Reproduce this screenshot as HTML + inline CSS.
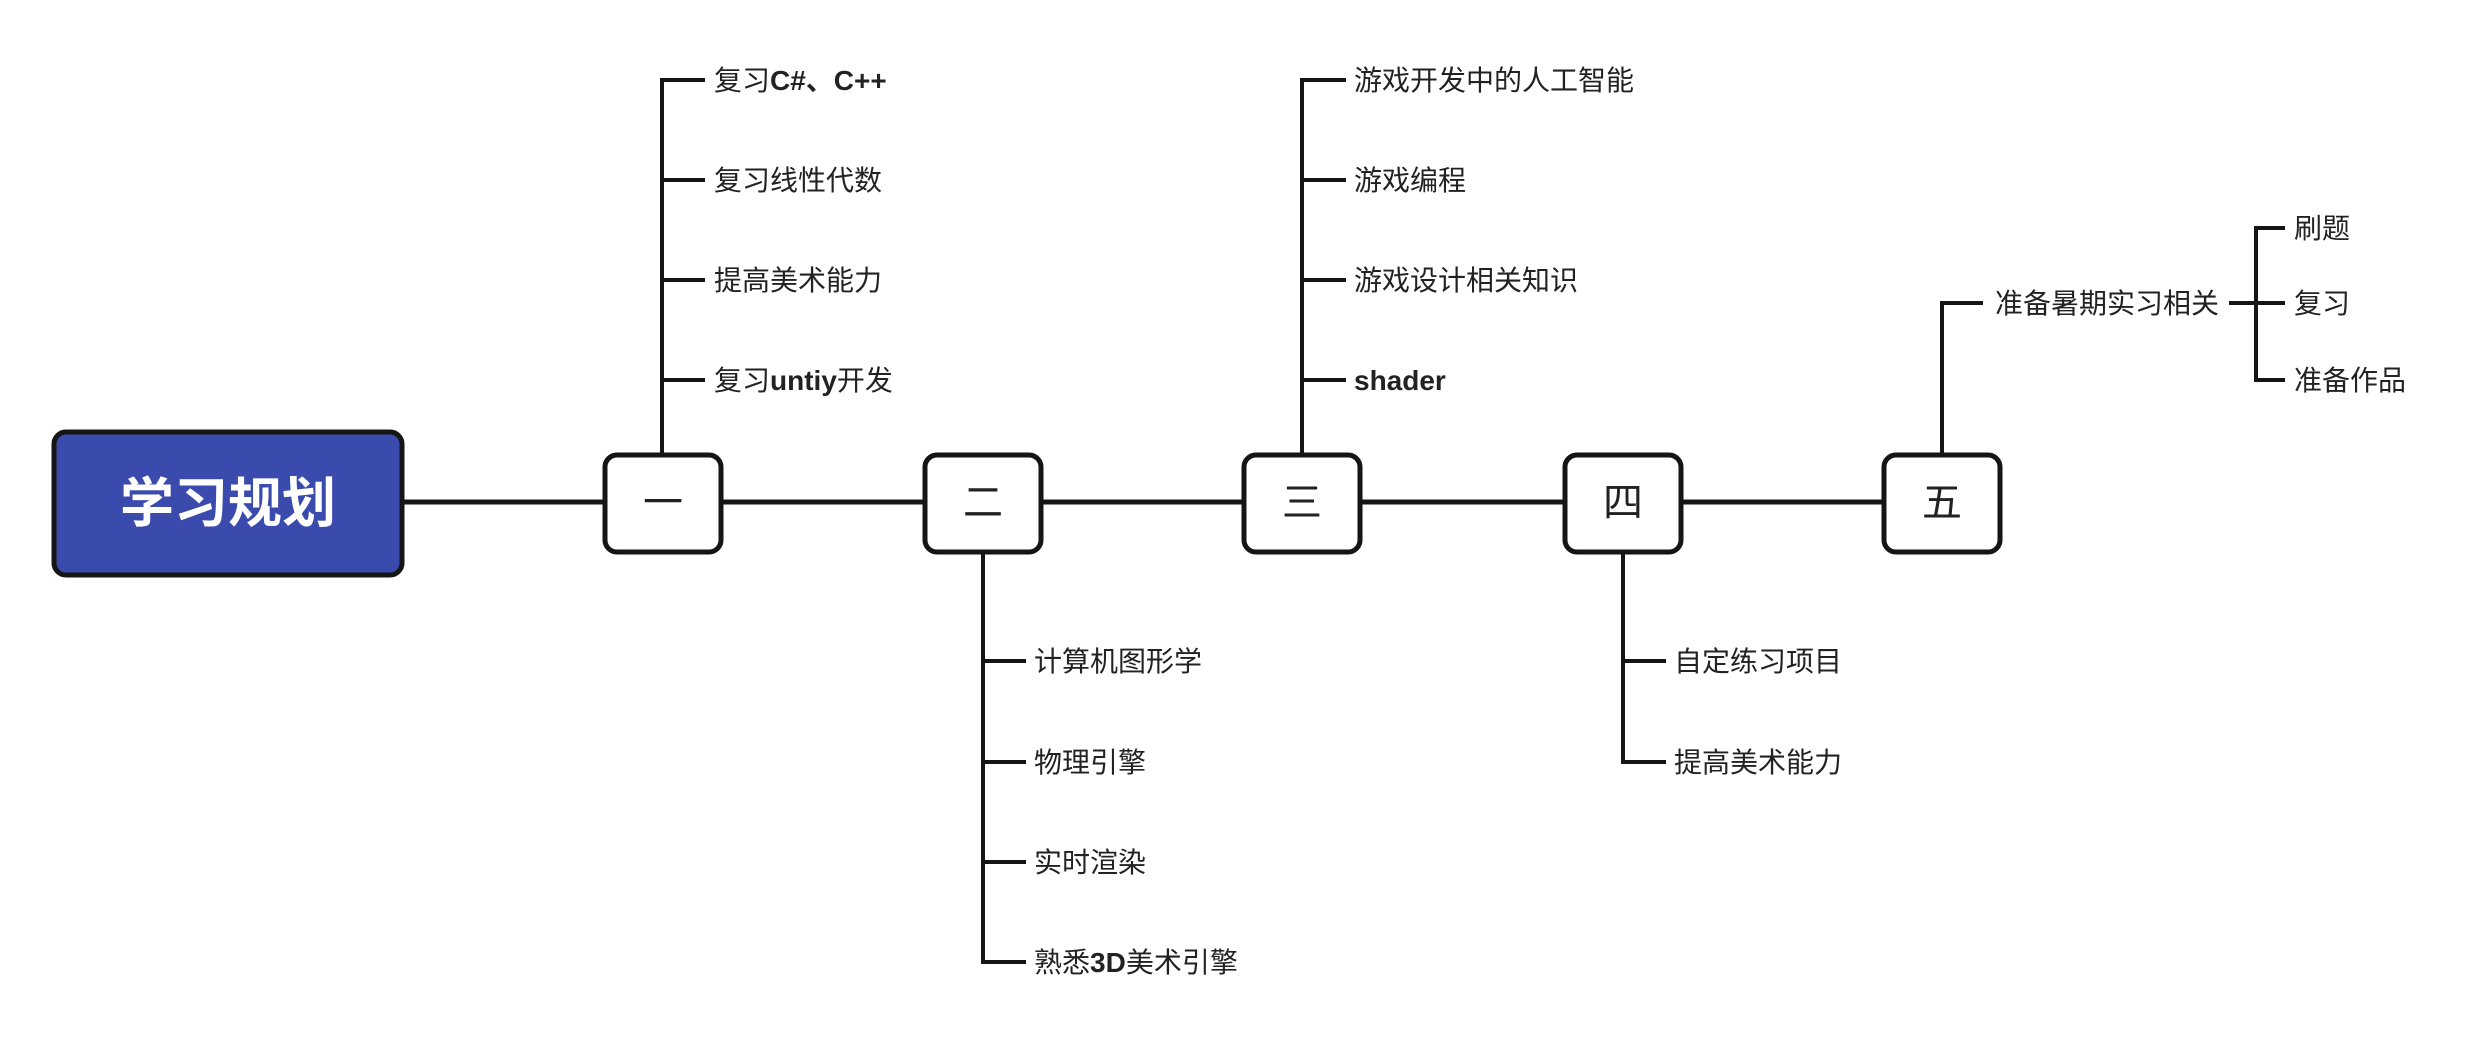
<!DOCTYPE html>
<html><head><meta charset="utf-8"><style>
html,body{margin:0;padding:0;background:#fff;width:2468px;height:1042px;overflow:hidden}
svg text{font-family:"Liberation Sans","Noto Sans CJK SC",sans-serif}
</style></head><body>
<svg width="2468" height="1042" viewBox="0 0 2468 1042" xmlns="http://www.w3.org/2000/svg">
<g stroke="#151515" stroke-width="5" fill="none">
<line x1="403" y1="502" x2="1942" y2="502"/>
</g>
<g stroke="#151515" stroke-width="4" fill="none">
<!-- 一 -->
<polyline points="705,80 662,80 662,455"/>
<line x1="662" y1="180" x2="705" y2="180"/>
<line x1="662" y1="280" x2="705" y2="280"/>
<line x1="662" y1="380" x2="705" y2="380"/>
<!-- 三 -->
<polyline points="1346,80 1302,80 1302,455"/>
<line x1="1302" y1="180" x2="1346" y2="180"/>
<line x1="1302" y1="280" x2="1346" y2="280"/>
<line x1="1302" y1="380" x2="1346" y2="380"/>
<!-- 二 -->
<polyline points="983,550 983,962 1026,962"/>
<line x1="983" y1="661" x2="1026" y2="661"/>
<line x1="983" y1="762" x2="1026" y2="762"/>
<line x1="983" y1="862" x2="1026" y2="862"/>
<!-- 四 -->
<polyline points="1623,550 1623,762 1666,762"/>
<line x1="1623" y1="661" x2="1666" y2="661"/>
<!-- 五 -->
<polyline points="1942,455 1942,303 1983,303"/>
<line x1="2229" y1="303" x2="2285" y2="303"/>
<polyline points="2285,228 2256,228 2256,380 2285,380"/>
</g>
<rect x="54" y="432" width="348" height="143" rx="12" fill="#3a4bad" stroke="#151515" stroke-width="5"/>
<text x="228" y="522" font-size="54" font-weight="bold" fill="#fff" text-anchor="middle">学习规划</text>
<g fill="#fff" stroke="#151515" stroke-width="5">
<rect x="605" y="455" width="116" height="97" rx="12"/>
<rect x="925" y="455" width="116" height="97" rx="12"/>
<rect x="1244" y="455" width="116" height="97" rx="12"/>
<rect x="1565" y="455" width="116" height="97" rx="12"/>
<rect x="1884" y="455" width="116" height="97" rx="12"/>
</g>
<g font-size="40" fill="#222" text-anchor="middle">
<text x="663" y="516">一</text>
<text x="983" y="516">二</text>
<text x="1302" y="516">三</text>
<text x="1623" y="516">四</text>
<text x="1942" y="516">五</text>
</g>
<g font-size="28" fill="#222">
<text x="714" y="90">复习<tspan font-weight="bold">C#、C++</tspan></text>
<text x="714" y="190">复习线性代数</text>
<text x="714" y="290">提高美术能力</text>
<text x="714" y="390">复习<tspan font-weight="bold">untiy</tspan>开发</text>
<text x="1354" y="90">游戏开发中的人工智能</text>
<text x="1354" y="190">游戏编程</text>
<text x="1354" y="290">游戏设计相关知识</text>
<text x="1354" y="390" font-weight="bold">shader</text>
<text x="1034" y="671">计算机图形学</text>
<text x="1034" y="772">物理引擎</text>
<text x="1034" y="872">实时渲染</text>
<text x="1034" y="972">熟悉<tspan font-weight="bold">3D</tspan>美术引擎</text>
<text x="1674" y="671">自定练习项目</text>
<text x="1674" y="772">提高美术能力</text>
<text x="1995" y="313">准备暑期实习相关</text>
<text x="2294" y="238">刷题</text>
<text x="2294" y="313">复习</text>
<text x="2294" y="390">准备作品</text>
</g>
</svg>
</body></html>
